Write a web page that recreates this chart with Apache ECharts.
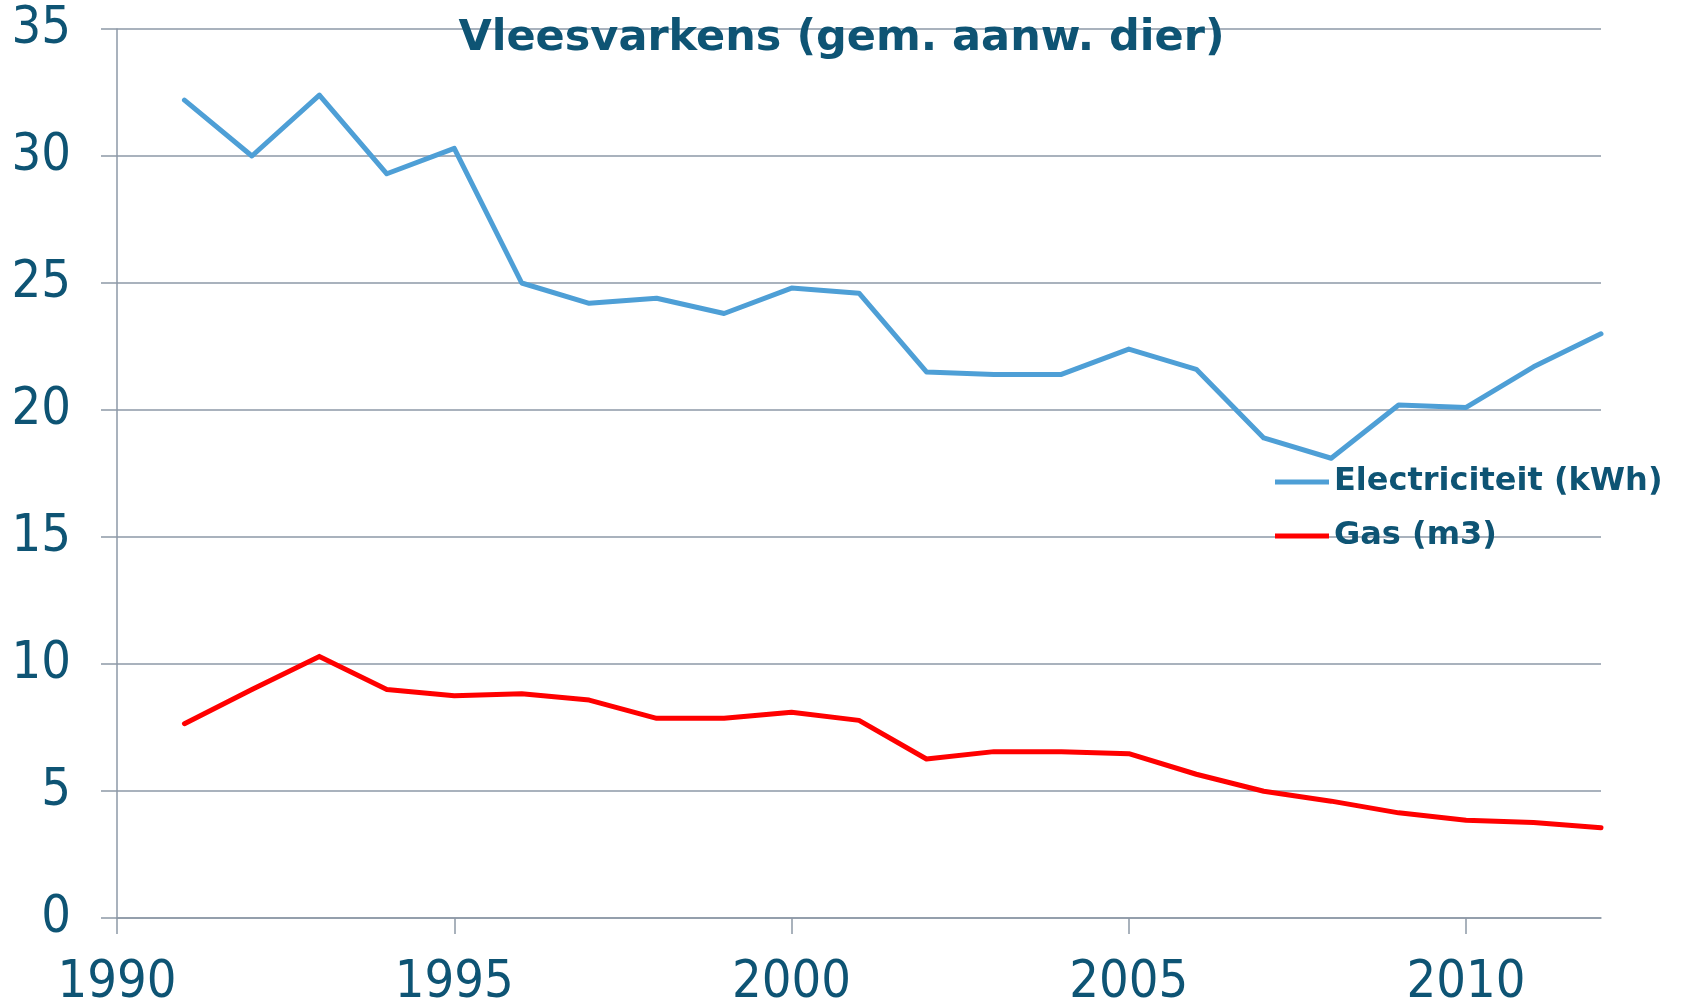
<!DOCTYPE html>
<html>
<head>
<meta charset="utf-8">
<title>Vleesvarkens</title>
<script src="https://cdn.jsdelivr.net/npm/echarts@6/dist/echarts.min.js"></script>
<style>
  html, body { margin: 0; padding: 0; background: #fff; }
  #main { width: 1683px; height: 1004px; }
</style>
</head>
<body>
<div id="main"></div>
<script>
// jaren en verbruik per gemiddeld aanwezig dier
const years = [1991, 1992, 1993, 1994, 1995, 1996, 1997, 1998, 1999, 2000, 2001,
  2002, 2003, 2004, 2005, 2006, 2007, 2008, 2009, 2010, 2011, 2012];
const electriciteit = [32.2, 30.0, 32.4, 29.3, 30.3, 25.0, 24.2, 24.4, 23.8, 24.8, 24.6,
  21.5, 21.4, 21.4, 22.4, 21.6, 18.9, 18.1, 20.2, 20.1, 21.7, 23.0];
const gas = [7.65, 9.0, 10.3, 9.0, 8.75, 8.83, 8.58, 7.86, 7.86, 8.1, 7.78,
  6.26, 6.55, 6.55, 6.47, 5.66, 4.99, 4.6, 4.14, 3.85, 3.76, 3.55];
const xTicks = [1990, 1995, 2000, 2005, 2010];

const textColor = "#0e5474";
const gridColor = "#8d99a7";

const pair = (xs, ys) => xs.map((x, i) => [x, ys[i]]);

var myChart = echarts.init(document.getElementById("main"));
myChart.setOption({
  animation: false,
  title: {
    text: "Vleesvarkens (gem. aanw. dier)",
    left: "center",
    top: 12,
    textStyle: {
      color: textColor,
      fontFamily: "DejaVu Sans",
      fontWeight: "bold",
      fontSize: 43
    }
  },
  legend: {
    orient: "vertical",
    left: 1270,
    top: 461,
    itemWidth: 54,
    itemHeight: 5,
    itemGap: 22,
    icon: "rect",
    data: ["Electriciteit (kWh)", "Gas (m3)"],
    textStyle: {
      color: textColor,
      fontFamily: "DejaVu Sans",
      fontWeight: "bold",
      fontSize: 32
    }
  },
  grid: { left: 117, right: 82, top: 29, bottom: 86, outerBoundsMode: "none" },
  xAxis: {
    type: "value",
    min: 1990,
    max: 2012,
    interval: 5,
    splitLine: { show: false },
    axisLine: { lineStyle: { color: gridColor, width: 1.5 } },
    axisTick: { show: true, length: 16, customValues: xTicks, lineStyle: { color: gridColor, width: 1.5 } },
    axisLabel: {
      customValues: xTicks,
      formatter: v => String(v),
      margin: 39,
      color: textColor,
      fontFamily: "DejaVu Sans Condensed",
      fontSize: 52
    }
  },
  yAxis: {
    type: "value",
    min: 0,
    max: 35,
    interval: 5,
    axisLine: { show: true, lineStyle: { color: gridColor, width: 1.5 } },
    axisTick: { show: true, length: 16, lineStyle: { color: gridColor, width: 1.5 } },
    splitLine: { lineStyle: { color: gridColor, width: 1.5 } },
    axisLabel: {
      margin: 46,
      color: textColor,
      fontFamily: "DejaVu Sans Condensed",
      fontSize: 52
    }
  },
  series: [
    {
      name: "Electriciteit (kWh)",
      type: "line",
      data: pair(years, electriciteit),
      symbol: "none",
      color: "#4e9fd6",
      lineStyle: { width: 5, cap: "round", join: "round" }
    },
    {
      name: "Gas (m3)",
      type: "line",
      data: pair(years, gas),
      symbol: "none",
      color: "#ff0000",
      lineStyle: { width: 5, cap: "round", join: "round" }
    }
  ]
});
</script>
</body>
</html>
